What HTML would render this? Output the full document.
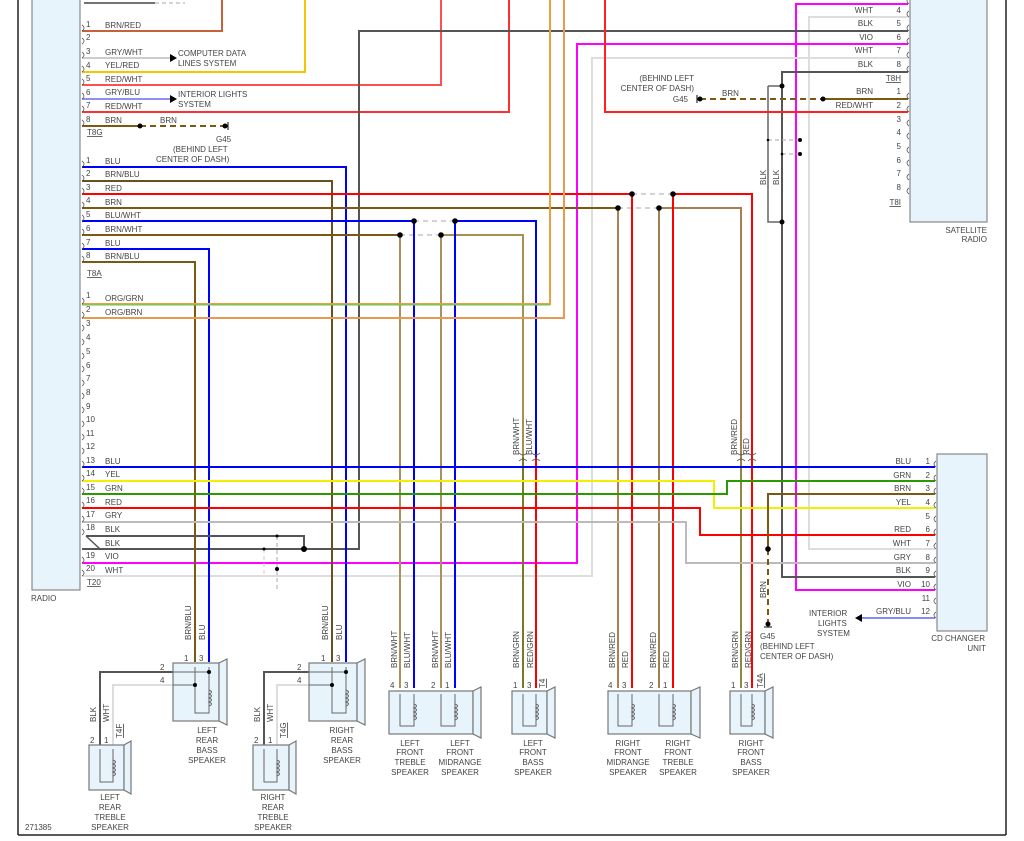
<!DOCTYPE html>
<html><head><meta charset="utf-8"><style>
html,body{margin:0;padding:0;background:#fff}
svg{display:block}
text{font-family:"Liberation Sans",sans-serif;font-size:8px;fill:#444}
</style></head><body>
<svg width="1024" height="841" viewBox="0 0 1024 841" xmlns="http://www.w3.org/2000/svg">
<!-- frame -->
<g stroke="#222" stroke-width="1.5" fill="none">
<line x1="18" y1="0" x2="18" y2="835"/><line x1="18" y1="835" x2="1006" y2="835"/><line x1="1006" y1="0" x2="1006" y2="835"/>
</g>
<!-- boxes -->
<rect x="32" y="-2" width="48" height="592" fill="#e8f4fb" stroke="#888" stroke-width="1.2"/>
<rect x="910" y="-2" width="77" height="224" fill="#e8f4fb" stroke="#888" stroke-width="1.2"/>
<rect x="937" y="454" width="50" height="177" fill="#e8f4fb" stroke="#888" stroke-width="1.2"/>

<g fill="none" stroke-width="2">
<!-- top partial -->
<line x1="84" y1="3" x2="155" y2="3" stroke="#222" stroke-width="1.2"/>
<line x1="155" y1="3" x2="185" y2="3" stroke="#aaa" stroke-width="1" stroke-dasharray="4,3"/>
<!-- T8G -->
<polyline points="82,31 222,31 222,0" stroke="#c8603a"/>
<line x1="82" y1="58" x2="170" y2="58" stroke="#ccc"/>
<polyline points="82,72 305,72 305,0" stroke="#f6c400"/>
<polyline points="82,85 441,85 441,0" stroke="#ff5050"/>
<line x1="82" y1="99" x2="170" y2="99" stroke="#9090f0"/>
<polyline points="82,112 509,112 509,0" stroke="#ff3030"/>
<line x1="82" y1="126" x2="140" y2="126" stroke="#7a5a10"/>
<line x1="140" y1="126" x2="225" y2="126" stroke="#7a5a10" stroke-dasharray="6,4"/>
<!-- satellite wires -->
<polyline points="908,4 796,4 796,590 935,590" stroke="#ff00ff"/>
<polyline points="908,17 809,17 809,549 935,549" stroke="#ddd"/>
<polyline points="908,31 359,31 359,549 82,549" stroke="#555"/>
<polyline points="908,44 577,44 577,563 82,563" stroke="#ff00ff"/>
<polyline points="908,58 592,58 592,576 82,576" stroke="#ddd"/>
<polyline points="908,72 782,72 782,577 935,577" stroke="#555"/>
<polyline points="768,86 768,222 782,222" stroke="#666" stroke-width="1.5"/>
<line x1="768" y1="86" x2="782" y2="86" stroke="#666" stroke-width="1.5"/>
<line x1="823" y1="99" x2="908" y2="99" stroke="#7a5a10"/>
<line x1="700" y1="99" x2="823" y2="99" stroke="#7a5a10" stroke-dasharray="6,4"/>
<polyline points="908,112 605,112 605,0" stroke="#ff2020"/>
<line x1="768" y1="140" x2="800" y2="140" stroke="#aaa" stroke-width="1" stroke-dasharray="4,3"/>
<line x1="782" y1="154" x2="800" y2="154" stroke="#aaa" stroke-width="1" stroke-dasharray="4,3"/>
<!-- T8A -->
<polyline points="82,167 346,167 346,662" stroke="#0000ff"/>
<polyline points="82,181 332,181 332,662" stroke="#6a5020"/>
<line x1="82" y1="194" x2="632" y2="194" stroke="#ff0000"/>
<line x1="632" y1="194" x2="673" y2="194" stroke="#aaa" stroke-width="1" stroke-dasharray="5,4"/>
<polyline points="673,194 752,194 752,688" stroke="#ff0000"/>
<line x1="82" y1="208" x2="618" y2="208" stroke="#7a5a10"/>
<line x1="618" y1="208" x2="659" y2="208" stroke="#aaa" stroke-width="1" stroke-dasharray="5,4"/>
<polyline points="659,208 741,208 741,457" stroke="#a88050"/>
<line x1="741" y1="457" x2="741" y2="688" stroke="#8a8a40"/>
<line x1="82" y1="221" x2="414" y2="221" stroke="#0000ff"/>
<line x1="414" y1="221" x2="455" y2="221" stroke="#aaa" stroke-width="1" stroke-dasharray="5,4"/>
<polyline points="455,221 536,221 536,457" stroke="#0000ff"/>
<line x1="536" y1="457" x2="536" y2="688" stroke="#ff0000"/>
<line x1="82" y1="235" x2="400" y2="235" stroke="#7a5a10"/>
<line x1="400" y1="235" x2="441" y2="235" stroke="#aaa" stroke-width="1" stroke-dasharray="5,4"/>
<polyline points="441,235 523,235 523,457" stroke="#a89050"/>
<line x1="523" y1="457" x2="523" y2="688" stroke="#7a7a20"/>
<polyline points="82,249 209,249 209,662" stroke="#0000ff"/>
<polyline points="82,262 195,262 195,662" stroke="#7a5a10"/>
<line x1="400" y1="235" x2="400" y2="688" stroke="#a89060"/>
<line x1="441" y1="235" x2="441" y2="688" stroke="#a89060"/>
<line x1="414" y1="221" x2="414" y2="688" stroke="#0000ff"/>
<line x1="455" y1="221" x2="455" y2="688" stroke="#0000ff"/>
<line x1="618" y1="208" x2="618" y2="688" stroke="#b08050"/>
<line x1="659" y1="208" x2="659" y2="688" stroke="#a08050"/>
<line x1="632" y1="194" x2="632" y2="688" stroke="#ff0000"/>
<line x1="673" y1="194" x2="673" y2="688" stroke="#ff0000"/>
<!-- T20 -->
<polyline points="82,304 550,304 550,0" stroke="#e8a040"/>
<line x1="82" y1="305" x2="550" y2="305" stroke="#5c5" stroke-width="1"/>
<polyline points="82,318 564,318 564,0" stroke="#e89a50"/>
<line x1="82" y1="467" x2="935" y2="467" stroke="#0000ff"/>
<polyline points="82,481 714,481 714,508 935,508" stroke="#f0f000"/>
<polyline points="82,494 727,494 727,481 935,481" stroke="#2a9a00"/>
<polyline points="82,508 700,508 700,535 935,535" stroke="#ff0000"/>
<polyline points="82,522 686,522 686,563 935,563" stroke="#bbb"/>
<polyline points="86,536 304,536 304,549" stroke="#555"/>
<line x1="86" y1="536" x2="100" y2="549" stroke="#555" stroke-width="1.5"/>
<polyline points="935,494 768,494 768,549" stroke="#7a5a10"/>
<line x1="768" y1="549" x2="768" y2="622" stroke="#7a5a10" stroke-dasharray="6,4"/>
<line x1="862" y1="618" x2="935" y2="618" stroke="#8888ff"/>
<line x1="277" y1="536" x2="277" y2="590" stroke="#aaa" stroke-width="1" stroke-dasharray="4,3"/>
<line x1="264" y1="549" x2="264" y2="575" stroke="#ccc" stroke-width="1" stroke-dasharray="4,3"/>
<!-- rear speaker wires -->
<polyline points="173,672 100,672 100,745" stroke="#555"/>
<polyline points="173,685 113,685 113,745" stroke="#ddd"/>
<polyline points="309,672 264,672 264,745" stroke="#555"/>
<polyline points="309,685 277,685 277,745" stroke="#ddd"/>
</g>

<!-- dots -->
<g fill="#000">
<circle cx="140" cy="126" r="2.5"/><circle cx="225" cy="126" r="2.5"/>
<circle cx="700" cy="99" r="2.5"/><circle cx="823" cy="99" r="2.5"/>
<circle cx="782" cy="86" r="2.5"/><circle cx="782" cy="222" r="2.5"/>
<circle cx="800" cy="140" r="2"/><circle cx="800" cy="154" r="2"/>
<circle cx="768" cy="140" r="1.3"/><circle cx="782" cy="154" r="1.3"/>
<circle cx="632" cy="194" r="2.8"/><circle cx="673" cy="194" r="2.8"/>
<circle cx="618" cy="208" r="2.8"/><circle cx="659" cy="208" r="2.8"/>
<circle cx="414" cy="221" r="2.8"/><circle cx="455" cy="221" r="2.8"/>
<circle cx="400" cy="235" r="2.8"/><circle cx="441" cy="235" r="2.8"/>
<circle cx="304" cy="549" r="3"/><circle cx="277" cy="536" r="1.5"/><circle cx="264" cy="549" r="1.5"/><circle cx="277" cy="569" r="2"/>
<circle cx="768" cy="549" r="2.8"/><circle cx="768" cy="624" r="2.5"/>
<polygon points="170,54 177,58 170,62"/><polygon points="170,95 177,99 170,103"/>
<polygon points="862,614 855,618 862,622"/>
</g>
<g stroke="#000" stroke-width="1"><line x1="228" y1="122" x2="228" y2="130"/><line x1="697" y1="95" x2="697" y2="103"/><line x1="764" y1="627" x2="772" y2="627"/></g>

<!-- pin connector marks radio -->
<g fill="none" stroke="#555" stroke-width="0.8">
<path d="M82 25q4 3 0 6M82 38q4 3 0 6M82 52q4 3 0 6M82 66q4 3 0 6M82 79q4 3 0 6M82 93q4 3 0 6M82 106q4 3 0 6M82 120q4 3 0 6"/>
<path d="M82 161q4 3 0 6M82 175q4 3 0 6M82 188q4 3 0 6M82 202q4 3 0 6M82 215q4 3 0 6M82 229q4 3 0 6M82 243q4 3 0 6M82 256q4 3 0 6"/>
<path d="M82 298q4 3 0 6M82 312q4 3 0 6M82 325q4 3 0 6M82 339q4 3 0 6M82 353q4 3 0 6M82 366q4 3 0 6M82 380q4 3 0 6M82 393q4 3 0 6M82 407q4 3 0 6M82 421q4 3 0 6M82 434q4 3 0 6M82 448q4 3 0 6M82 461q4 3 0 6M82 475q4 3 0 6M82 488q4 3 0 6M82 502q4 3 0 6M82 516q4 3 0 6M82 529q4 3 0 6M82 557q4 3 0 6M82 570q4 3 0 6"/>
<path d="M909 -2q-4 3 0 6M909 11q-4 3 0 6M909 25q-4 3 0 6M909 38q-4 3 0 6M909 52q-4 3 0 6M909 66q-4 3 0 6M909 93q-4 3 0 6M909 106q-4 3 0 6M909 120q-4 3 0 6M909 133q-4 3 0 6M909 147q-4 3 0 6M909 160q-4 3 0 6M909 174q-4 3 0 6M909 188q-4 3 0 6"/>
<path d="M936 461q-4 3 0 6M936 475q-4 3 0 6M936 488q-4 3 0 6M936 502q-4 3 0 6M936 516q-4 3 0 6M936 529q-4 3 0 6M936 543q-4 3 0 6M936 557q-4 3 0 6M936 571q-4 3 0 6M936 584q-4 3 0 6M936 598q-4 3 0 6M936 612q-4 3 0 6"/>
<path d="M519 453q4 4 8 0M519 461q4 -4 8 0M532 453q4 4 8 0M532 461q4 -4 8 0M737 453q4 4 8 0M737 461q4 -4 8 0M748 453q4 4 8 0M748 461q4 -4 8 0"/>
</g>

<!-- radio labels -->
<text x="86" y="27">1</text><text x="105" y="28">BRN/RED</text>
<text x="86" y="40">2</text>
<text x="86" y="54">3</text><text x="105" y="55">GRY/WHT</text>
<text x="86" y="68">4</text><text x="105" y="68">YEL/RED</text>
<text x="86" y="81">5</text><text x="105" y="82">RED/WHT</text>
<text x="86" y="95">6</text><text x="105" y="95">GRY/BLU</text>
<text x="86" y="108">7</text><text x="105" y="109">RED/WHT</text>
<text x="86" y="122">8</text><text x="105" y="123">BRN</text>
<text x="87" y="135" text-decoration="underline">T8G</text>
<text x="178" y="56">COMPUTER DATA</text><text x="178" y="66">LINES SYSTEM</text>
<text x="178" y="97">INTERIOR LIGHTS</text><text x="178" y="107">SYSTEM</text>
<text x="160" y="123">BRN</text>
<text x="216" y="142">G45</text><text x="173" y="152">(BEHIND LEFT</text><text x="156" y="162">CENTER OF DASH)</text>
<text x="86" y="163">1</text><text x="105" y="164">BLU</text>
<text x="86" y="176">2</text><text x="105" y="177">BRN/BLU</text>
<text x="86" y="190">3</text><text x="105" y="191">RED</text>
<text x="86" y="203">4</text><text x="105" y="205">BRN</text>
<text x="86" y="217">5</text><text x="105" y="218">BLU/WHT</text>
<text x="86" y="231">6</text><text x="105" y="232">BRN/WHT</text>
<text x="86" y="245">7</text><text x="105" y="246">BLU</text>
<text x="86" y="258">8</text><text x="105" y="259">BRN/BLU</text>
<text x="87" y="276" text-decoration="underline">T8A</text>
<text x="86" y="298">1</text><text x="105" y="301">ORG/GRN</text>
<text x="86" y="312">2</text><text x="105" y="315">ORG/BRN</text>
<text x="86" y="326">3</text><text x="86" y="340">4</text><text x="86" y="354">5</text><text x="86" y="368">6</text><text x="86" y="381">7</text><text x="86" y="395">8</text><text x="86" y="409">9</text><text x="86" y="422">10</text><text x="86" y="436">11</text><text x="86" y="449">12</text>
<text x="86" y="463">13</text><text x="105" y="464">BLU</text>
<text x="86" y="476">14</text><text x="105" y="477">YEL</text>
<text x="86" y="490">15</text><text x="105" y="491">GRN</text>
<text x="86" y="503">16</text><text x="105" y="505">RED</text>
<text x="86" y="517">17</text><text x="105" y="518">GRY</text>
<text x="86" y="530">18</text><text x="105" y="532">BLK</text>
<text x="105" y="546">BLK</text>
<text x="86" y="558">19</text><text x="105" y="559">VIO</text>
<text x="86" y="571">20</text><text x="105" y="573">WHT</text>
<text x="87" y="585" text-decoration="underline">T20</text>
<text x="31" y="601">RADIO</text>
<text x="25" y="830">271385</text>

<!-- satellite labels -->
<g text-anchor="end">
<text x="873" y="13">WHT</text><text x="901" y="13">4</text>
<text x="873" y="26">BLK</text><text x="901" y="26">5</text>
<text x="873" y="40">VIO</text><text x="901" y="40">6</text>
<text x="873" y="53">WHT</text><text x="901" y="53">7</text>
<text x="873" y="67">BLK</text><text x="901" y="67">8</text>
<text x="901" y="81" text-decoration="underline">T8H</text>
<text x="873" y="94">BRN</text><text x="901" y="94">1</text>
<text x="873" y="108">RED/WHT</text><text x="901" y="108">2</text>
<text x="901" y="122">3</text><text x="901" y="135">4</text><text x="901" y="149">5</text><text x="901" y="163">6</text><text x="901" y="176">7</text><text x="901" y="190">8</text>
<text x="901" y="205" text-decoration="underline">T8I</text>
<text x="987" y="233">SATELLITE</text><text x="987" y="242">RADIO</text>
<text x="694" y="81">(BEHIND LEFT</text><text x="694" y="91">CENTER OF DASH)</text>
<text x="688" y="102">G45</text>
<!-- CD labels -->
<text x="911" y="464">BLU</text><text x="930" y="464">1</text>
<text x="911" y="478">GRN</text><text x="930" y="478">2</text>
<text x="911" y="491">BRN</text><text x="930" y="491">3</text>
<text x="911" y="505">YEL</text><text x="930" y="505">4</text>
<text x="930" y="519">5</text>
<text x="911" y="532">RED</text><text x="930" y="532">6</text>
<text x="911" y="546">WHT</text><text x="930" y="546">7</text>
<text x="911" y="560">GRY</text><text x="930" y="560">8</text>
<text x="911" y="573">BLK</text><text x="930" y="573">9</text>
<text x="911" y="587">VIO</text><text x="930" y="587">10</text>
<text x="930" y="601">11</text>
<text x="911" y="614">GRY/BLU</text><text x="930" y="614">12</text>
<text x="985" y="641">CD CHANGER</text><text x="986" y="651">UNIT</text>
</g>
<text x="722" y="96">BRN</text>
<text x="809" y="616">INTERIOR</text><text x="818" y="626">LIGHTS</text><text x="817" y="636">SYSTEM</text>
<text x="760" y="639">G45</text><text x="760" y="649">(BEHIND LEFT</text><text x="760" y="659">CENTER OF DASH)</text>

<!-- vertical labels -->
<g>
<text transform="translate(766,185) rotate(-90)">BLK</text>
<text transform="translate(779,185) rotate(-90)">BLK</text>
<text transform="translate(519,455) rotate(-90)">BRN/WHT</text>
<text transform="translate(532,455) rotate(-90)">BLU/WHT</text>
<text transform="translate(737,455) rotate(-90)">BRN/RED</text>
<text transform="translate(749,455) rotate(-90)">RED</text>
<text transform="translate(766,598) rotate(-90)">BRN</text>
<text transform="translate(191,640) rotate(-90)">BRN/BLU</text>
<text transform="translate(205,640) rotate(-90)">BLU</text>
<text transform="translate(328,640) rotate(-90)">BRN/BLU</text>
<text transform="translate(342,640) rotate(-90)">BLU</text>
<text transform="translate(397,668) rotate(-90)">BRN/WHT</text>
<text transform="translate(410,668) rotate(-90)">BLU/WHT</text>
<text transform="translate(438,668) rotate(-90)">BRN/WHT</text>
<text transform="translate(451,668) rotate(-90)">BLU/WHT</text>
<text transform="translate(519,668) rotate(-90)">BRN/GRN</text>
<text transform="translate(533,668) rotate(-90)">RED/GRN</text>
<text transform="translate(615,668) rotate(-90)">BRN/RED</text>
<text transform="translate(628,668) rotate(-90)">RED</text>
<text transform="translate(656,668) rotate(-90)">BRN/RED</text>
<text transform="translate(669,668) rotate(-90)">RED</text>
<text transform="translate(738,668) rotate(-90)">BRN/GRN</text>
<text transform="translate(751,668) rotate(-90)">RED/GRN</text>
<text transform="translate(96,722) rotate(-90)">BLK</text>
<text transform="translate(109,722) rotate(-90)">WHT</text>
<text transform="translate(260,722) rotate(-90)">BLK</text>
<text transform="translate(273,722) rotate(-90)">WHT</text>
<text transform="translate(122,738) rotate(-90)" text-decoration="underline">T4F</text>
<text transform="translate(286,738) rotate(-90)" text-decoration="underline">T4G</text>
<text transform="translate(545,688) rotate(-90)" text-decoration="underline">T4</text>
<text transform="translate(763,688) rotate(-90)" text-decoration="underline">T4A</text>
</g>

<!-- speakers -->
<g stroke="#777" stroke-width="1.2" fill="#e8f4fb">
<rect x="173" y="663" width="46" height="58"/><polygon points="219,663 227,659 227,725 219,721"/>
<rect x="309" y="663" width="48" height="58"/><polygon points="357,663 365,659 365,725 357,721"/>
<rect x="89" y="745" width="35" height="45"/><polygon points="124,745 131,741 131,794 124,790"/>
<rect x="253" y="745" width="36" height="45"/><polygon points="289,745 296,741 296,794 289,790"/>
<rect x="389" y="691" width="84" height="43"/><polygon points="473,691 481,687 481,738 473,734"/>
<rect x="512" y="691" width="35" height="43"/><polygon points="547,691 555,687 555,738 547,734"/>
<rect x="608" y="691" width="83" height="43"/><polygon points="691,691 700,687 700,738 691,734"/>
<rect x="730" y="691" width="35" height="43"/><polygon points="765,691 773,687 773,738 765,734"/>
</g>
<g stroke="#666" stroke-width="1" fill="none">
<!-- internal loops: pin a down, across, pin b (coil) up -->
<path d="M195 667V713H209V667M173 672H209M173 685H195"/><path d="M209 690q5 2 0 4q5 2 0 4q5 2 0 4q5 2 0 4"/>
<path d="M332 667V713H346V667M309 672H346M309 685H332"/><path d="M346 690q5 2 0 4q5 2 0 4q5 2 0 4q5 2 0 4"/>
<path d="M100 749V782H113V749"/><path d="M113 760q5 2 0 4q5 2 0 4q5 2 0 4q5 2 0 4"/>
<path d="M264 749V782H277V749"/><path d="M277 760q5 2 0 4q5 2 0 4q5 2 0 4q5 2 0 4"/>
<path d="M400 694V726H414V694"/><path d="M414 704q5 2 0 4q5 2 0 4q5 2 0 4q5 2 0 4"/>
<path d="M441 694V726H455V694"/><path d="M455 704q5 2 0 4q5 2 0 4q5 2 0 4q5 2 0 4"/>
<path d="M523 694V726H536V694"/><path d="M536 704q5 2 0 4q5 2 0 4q5 2 0 4q5 2 0 4"/>
<path d="M618 694V726H632V694"/><path d="M632 704q5 2 0 4q5 2 0 4q5 2 0 4q5 2 0 4"/>
<path d="M659 694V726H673V694"/><path d="M673 704q5 2 0 4q5 2 0 4q5 2 0 4q5 2 0 4"/>
<path d="M741 694V726H752V694"/><path d="M752 704q5 2 0 4q5 2 0 4q5 2 0 4q5 2 0 4"/>
</g>
<g fill="#000"><circle cx="209" cy="672" r="2"/><circle cx="195" cy="685" r="2"/><circle cx="346" cy="672" r="2"/><circle cx="332" cy="685" r="2"/></g>
<g font-size="7">
<text x="184" y="661">1</text><text x="199" y="661">3</text><text x="160" y="670">2</text><text x="160" y="683">4</text>
<text x="321" y="661">1</text><text x="336" y="661">3</text><text x="297" y="670">2</text><text x="297" y="683">4</text>
<text x="90" y="743">2</text><text x="104" y="743">1</text><text x="254" y="743">2</text><text x="268" y="743">1</text>
<text x="390" y="688">4</text><text x="404" y="688">3</text><text x="431" y="688">2</text><text x="445" y="688">1</text>
<text x="513" y="688">1</text><text x="527" y="688">3</text>
<text x="608" y="688">4</text><text x="622" y="688">3</text><text x="649" y="688">2</text><text x="663" y="688">1</text>
<text x="731" y="688">1</text><text x="744" y="688">3</text>
</g>
<g text-anchor="middle">
<text x="207" y="733">LEFT</text><text x="207" y="743">REAR</text><text x="207" y="753">BASS</text><text x="207" y="763">SPEAKER</text>
<text x="342" y="733">RIGHT</text><text x="342" y="743">REAR</text><text x="342" y="753">BASS</text><text x="342" y="763">SPEAKER</text>
<text x="110" y="800">LEFT</text><text x="110" y="810">REAR</text><text x="110" y="820">TREBLE</text><text x="110" y="830">SPEAKER</text>
<text x="273" y="800">RIGHT</text><text x="273" y="810">REAR</text><text x="273" y="820">TREBLE</text><text x="273" y="830">SPEAKER</text>
<text x="410" y="746">LEFT</text><text x="410" y="755">FRONT</text><text x="410" y="765">TREBLE</text><text x="410" y="775">SPEAKER</text>
<text x="460" y="746">LEFT</text><text x="460" y="755">FRONT</text><text x="460" y="765">MIDRANGE</text><text x="460" y="775">SPEAKER</text>
<text x="533" y="746">LEFT</text><text x="533" y="755">FRONT</text><text x="533" y="765">BASS</text><text x="533" y="775">SPEAKER</text>
<text x="628" y="746">RIGHT</text><text x="628" y="755">FRONT</text><text x="628" y="765">MIDRANGE</text><text x="628" y="775">SPEAKER</text>
<text x="678" y="746">RIGHT</text><text x="678" y="755">FRONT</text><text x="678" y="765">TREBLE</text><text x="678" y="775">SPEAKER</text>
<text x="751" y="746">RIGHT</text><text x="751" y="755">FRONT</text><text x="751" y="765">BASS</text><text x="751" y="775">SPEAKER</text>
</g>
</svg>
</body></html>
